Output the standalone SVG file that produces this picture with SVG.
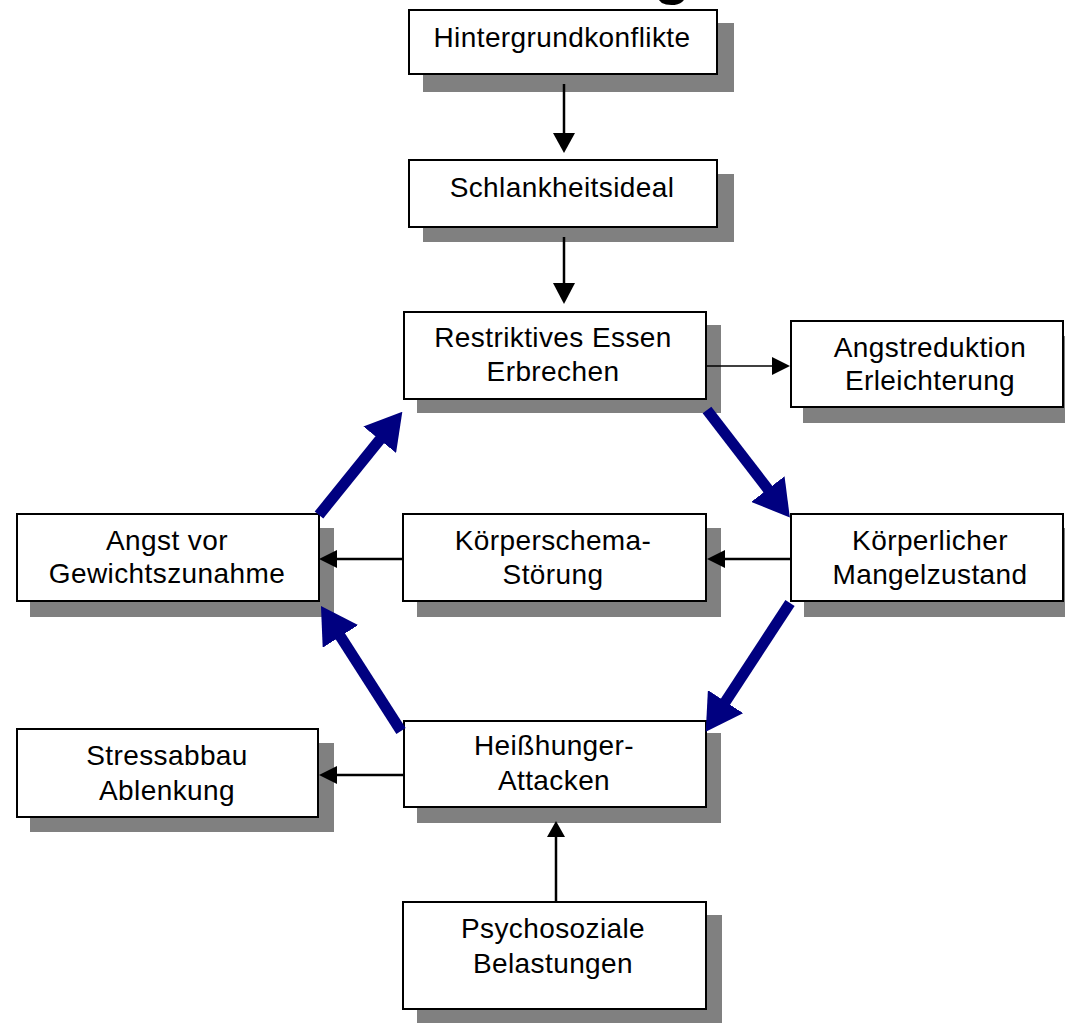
<svg xmlns="http://www.w3.org/2000/svg" width="1065" height="1023" viewBox="0 0 1065 1023">
<defs>
<style>
.shadow{fill:#808080;}
.box{fill:#fff;stroke:#000;stroke-width:2;}
.lbl{font-family:"Liberation Sans",Arial,sans-serif;font-size:28px;letter-spacing:0.4px;fill:#000;text-anchor:middle;}
.bl{stroke:#000;stroke-width:2.5;fill:none;}
.bh{fill:#000;}
.nv{stroke:#000080;stroke-width:11;fill:none;marker-end:url(#nvh);}
</style>
<marker id="nvh" markerUnits="userSpaceOnUse" viewBox="0 0 36 42" markerWidth="36" markerHeight="42" refX="10" refY="21" orient="auto">
<path d="M0,0 L36,21 L0,42 z" fill="#000080"/>
</marker>
</defs>
<rect width="1065" height="1023" fill="#fff"/>
<text x="672" y="-7" font-family="Liberation Sans,Arial,sans-serif" font-weight="bold" font-size="60" text-anchor="middle">g</text>

<g id="n-hintergrund">
<rect class="shadow" x="423" y="23" width="311" height="69"/>
<rect class="box" x="409" y="10" width="308" height="64"/>
<text class="lbl" x="562" y="47">Hintergrundkonflikte</text>
</g>
<g id="n-schlank">
<rect class="shadow" x="423" y="174" width="311" height="68"/>
<rect class="box" x="409" y="160" width="308" height="67"/>
<text class="lbl" x="562" y="197">Schlankheitsideal</text>
</g>
<g id="n-restriktiv">
<rect class="shadow" x="417" y="325" width="304" height="88"/>
<rect class="box" x="404" y="312" width="302" height="87"/>
<text class="lbl" x="553" y="347">Restriktives Essen</text>
<text class="lbl" x="553" y="381">Erbrechen</text>
</g>
<g id="n-angstred">
<rect class="shadow" x="803" y="336" width="262" height="87"/>
<rect class="box" x="791" y="321" width="272" height="86"/>
<text class="lbl" x="930" y="357">Angstreduktion</text>
<text class="lbl" x="930" y="390">Erleichterung</text>
</g>
<g id="n-mangel">
<rect class="shadow" x="804" y="528" width="261" height="89"/>
<rect class="box" x="791" y="514" width="272" height="87"/>
<text class="lbl" x="930" y="550">Körperlicher</text>
<text class="lbl" x="930" y="584">Mangelzustand</text>
</g>
<g id="n-schema">
<rect class="shadow" x="417" y="528" width="304" height="89"/>
<rect class="box" x="403" y="514" width="303" height="87"/>
<text class="lbl" x="553" y="550">Körperschema-</text>
<text class="lbl" x="553" y="584">Störung</text>
</g>
<g id="n-angst">
<rect class="shadow" x="30" y="528" width="304" height="89"/>
<rect class="box" x="17" y="514" width="302" height="87"/>
<text class="lbl" x="167" y="550">Angst vor</text>
<text class="lbl" x="167" y="583">Gewichtszunahme</text>
</g>
<g id="n-heiss">
<rect class="shadow" x="417" y="733" width="304" height="90"/>
<rect class="box" x="404" y="721" width="302" height="86"/>
<text class="lbl" x="554" y="755">Heißhunger-</text>
<text class="lbl" x="554" y="790">Attacken</text>
</g>
<g id="n-stress">
<rect class="shadow" x="30" y="743" width="304" height="89"/>
<rect class="box" x="17" y="729" width="301" height="88"/>
<text class="lbl" x="167" y="765">Stressabbau</text>
<text class="lbl" x="167" y="800">Ablenkung</text>
</g>
<g id="n-psycho">
<rect class="shadow" x="417" y="915" width="305" height="108"/>
<rect class="box" x="403" y="902" width="303" height="107"/>
<text class="lbl" x="553" y="938">Psychosoziale</text>
<text class="lbl" x="553" y="973">Belastungen</text>
</g>

<g id="connectors">
<line class="bl" x1="564" y1="84" x2="564" y2="134"/>
<polygon class="bh" points="553,133 575,133 564,153"/>
<line class="bl" x1="564" y1="237" x2="564" y2="284"/>
<polygon class="bh" points="553,283 575,283 564,304"/>
<line class="bl" x1="706" y1="366" x2="773" y2="366" style="stroke-width:1.5"/>
<polygon class="bh" points="772,357 772,375 790,366"/>
<line class="bl" x1="791" y1="559" x2="724" y2="559"/>
<polygon class="bh" points="725,550 725,568 707,559"/>
<line class="bl" x1="403" y1="559" x2="336" y2="559"/>
<polygon class="bh" points="337,550 337,568 319,559"/>
<line class="bl" x1="404" y1="775" x2="336" y2="775"/>
<polygon class="bh" points="337,766 337,784 319,775"/>
<line class="bl" x1="556" y1="902" x2="556" y2="836"/>
<polygon class="bh" points="547,837 565,837 556,821"/>

<line class="nv" x1="707" y1="410" x2="774" y2="497"/>
<line class="nv" x1="790" y1="603" x2="720" y2="710"/>
<line class="nv" x1="401" y1="731" x2="335" y2="628"/>
<line class="nv" x1="319" y1="515" x2="386" y2="432"/>
</g>
</svg>
